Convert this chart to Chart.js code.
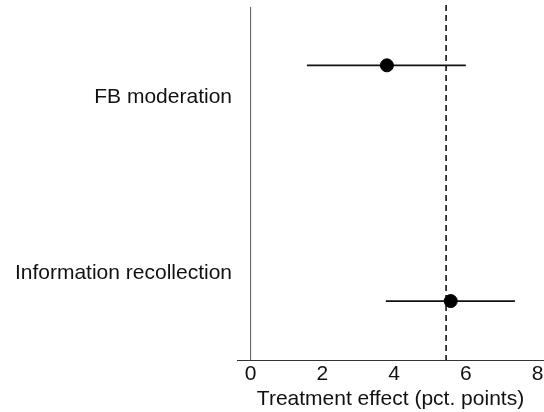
<!DOCTYPE html>
<html>
<head>
<meta charset="utf-8">
<script src="https://cdn.jsdelivr.net/npm/chart.js@4"></script>
<style>
  html, body { margin: 0; padding: 0; background: #fff; overflow: hidden; }
  canvas { display: block; }
</style>
</head>
<body>
<canvas id="effectChart" width="544" height="412"></canvas>
<script>
const categories = ["FB moderation", "Information recollection"];
const estimates = [3.8, 5.58];
const lower = [1.57, 3.77];
const upper = [6.0, 7.37];
const labelPos = [7.4, 2.44];
const pointPos = [8.3, 1.66];
const xTicks = [0, 2, 4, 6, 8];
const dashedAt = 5.45;
const zeroAt = 0;

const font = "'Liberation Sans', Arial, Helvetica, sans-serif";

const refLines = {
  id: "refLines",
  beforeDatasetsDraw(chart) {
    const { ctx, chartArea, scales } = chart;
    ctx.save();
    // zero line
    let x = scales.x.getPixelForValue(zeroAt);
    ctx.strokeStyle = "#555";
    ctx.lineWidth = 1;
    ctx.beginPath();
    ctx.moveTo(x, chartArea.top + 2);
    ctx.lineTo(x, chartArea.bottom);
    ctx.stroke();
    // dashed reference
    x = scales.x.getPixelForValue(dashedAt);
    ctx.strokeStyle = "#111";
    ctx.lineWidth = 1.6;
    ctx.setLineDash([6, 4]);
    ctx.beginPath();
    ctx.moveTo(x, chartArea.top);
    ctx.lineTo(x, chartArea.bottom);
    ctx.stroke();
    ctx.setLineDash([]);
    // error bars
    ctx.strokeStyle = "#111";
    ctx.lineWidth = 1.8;
    estimates.forEach((e, i) => {
      const y = scales.y.getPixelForValue(pointPos[i]);
      ctx.beginPath();
      ctx.moveTo(scales.x.getPixelForValue(lower[i]), y);
      ctx.lineTo(scales.x.getPixelForValue(upper[i]), y);
      ctx.stroke();
    });
    ctx.restore();
  }
};

new Chart(document.getElementById("effectChart"), {
  type: "scatter",
  data: {
    datasets: [
      {
        data: estimates.map((e, i) => ({ x: e, y: pointPos[i] })),
        backgroundColor: "#000",
        borderColor: "#000",
        pointRadius: 6.5,
      },
    ],
  },
  options: {
    responsive: false,
    animation: false,
    layout: { autoPadding: false, padding: { top: 5, right: 0, left: 0, bottom: 0 } },
    plugins: {
      legend: { display: false },
      tooltip: { enabled: false },
    },
    scales: {
      x: {
        type: "linear",
        min: -0.38,
        max: 8.18,
        afterBuildTicks: (s) => { s.ticks = xTicks.map((v) => ({ value: v })); },
        afterFit: (s) => { s.height = 52; s.paddingLeft = 0; s.paddingRight = 0; },
        grid: { display: false, drawTicks: false },
        border: { display: true, color: "#333", width: 1 },
        ticks: { color: "#111", font: { family: font, size: 21 }, padding: 2, maxRotation: 0 },
        title: {
          display: true,
          text: "Treatment effect (pct. points)",
          color: "#111",
          font: { family: font, size: 21 },
          padding: { top: 0, bottom: 0 },
        },
      },
      y: {
        type: "linear",
        min: 0,
        max: 10,
        afterBuildTicks: (s) => { s.ticks = labelPos.map((v) => ({ value: v })); },
        afterFit: (s) => { s.width = 237; s.paddingTop = 0; s.paddingBottom = 0; },
        grid: { display: false, drawTicks: false },
        border: { display: false },
        ticks: {
          color: "#111",
          font: { family: font, size: 21 },
          padding: 5,
          callback: (v, i) => categories[i],
        },
      },
    },
  },
  plugins: [refLines],
});
</script>
</body>
</html>
